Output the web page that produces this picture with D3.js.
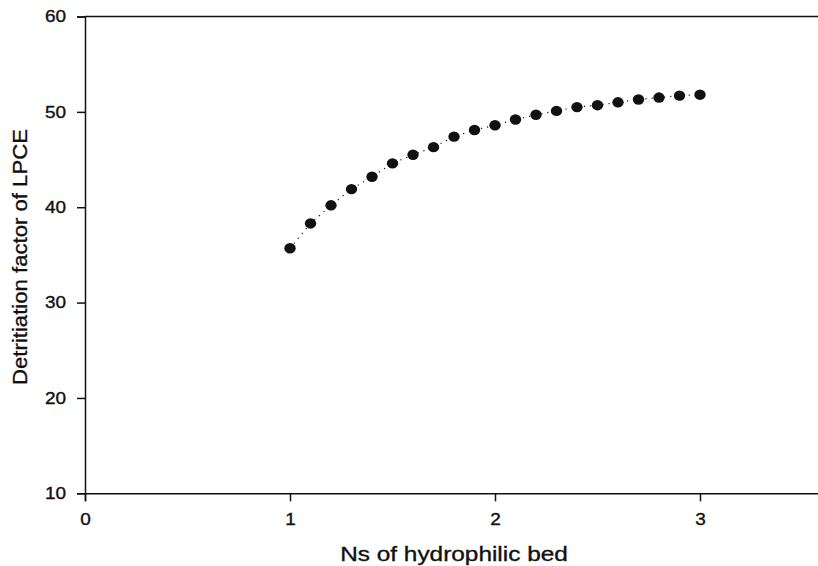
<!DOCTYPE html>
<html>
<head>
<meta charset="utf-8">
<script src="https://cdn.jsdelivr.net/npm/d3@7"></script>
<style>
  body { margin: 0; background: #fff; }
  svg { display: block; }
</style>
</head>
<body>
<svg id="chart" width="818" height="566"></svg>
<script>
const nsValues = [1.0, 1.1, 1.2, 1.3, 1.4, 1.5, 1.6, 1.7, 1.8, 1.9, 2.0,
                  2.1, 2.2, 2.3, 2.4, 2.5, 2.6, 2.7, 2.8, 2.9, 3.0];
const detritiation = [35.7, 38.3, 40.2, 41.9, 43.2, 44.6, 45.5, 46.3, 47.4, 48.1, 48.6,
                      49.2, 49.7, 50.1, 50.5, 50.7, 51.0, 51.3, 51.5, 51.7, 51.8];
const xTicks = [0, 1, 2, 3];
const yTicks = [10, 20, 30, 40, 50, 60];

const width = 818, height = 566;
const margin = { top: 16.5, right: -5, bottom: 72.7, left: 85 };
const font = "Liberation Sans, Arial, Helvetica, sans-serif";
const ink = "#111";

const svg = d3.select("#chart");

const x = d3.scaleLinear()
    .domain([0, 3.6])
    .range([margin.left, width - margin.right]);

const y = d3.scaleLinear()
    .domain([10, 60])
    .range([height - margin.bottom, margin.top]);

const data = nsValues.map((v, i) => ({ x: v, y: detritiation[i] }));

// text in the scan is a little wider and heavier than Arial
const styleTicks = g => g.selectAll("text")
    .attr("font-size", 16.5)
    .attr("font-family", font)
    .attr("fill", ink)
    .attr("stroke", ink)
    .attr("stroke-width", 0.35)
    .attr("transform", "scale(1.15,1)");

// x axis
svg.append("g")
    .attr("transform", `translate(0,${y(10)})`)
    .call(d3.axisBottom(x).tickValues(xTicks).tickFormat(d3.format("d")).tickSizeOuter(0).tickSize(8).tickPadding(12))
    .call(g => g.selectAll("path, line").attr("stroke", ink).attr("stroke-width", 1.5))
    .call(styleTicks);

// y axis
svg.append("g")
    .attr("transform", `translate(${margin.left},0)`)
    .call(d3.axisLeft(y).tickValues(yTicks).tickSizeOuter(0).tickSize(8).tickPadding(8.5))
    .call(g => g.selectAll("path, line").attr("stroke", ink).attr("stroke-width", 1.5))
    .call(styleTicks);

// top frame line
svg.append("line")
    .attr("x1", x(0)).attr("x2", width)
    .attr("y1", y(60)).attr("y2", y(60))
    .attr("stroke", ink).attr("stroke-width", 1.5);

// dotted connecting line
svg.append("path")
    .datum(data)
    .attr("fill", "none")
    .attr("stroke", ink)
    .attr("stroke-width", 1.2)
    .attr("stroke-dasharray", "1.2,5")
    .attr("d", d3.line().x(d => x(d.x)).y(d => y(d.y)));

svg.append("g")
    .selectAll("ellipse")
    .data(data)
    .join("ellipse")
    .attr("cx", d => x(d.x))
    .attr("cy", d => y(d.y))
    .attr("rx", 5.7)
    .attr("ry", 5.2)
    .attr("fill", ink);

// axis titles
svg.append("text")
    .attr("transform", "translate(454,561) scale(1.22,1)")
    .attr("text-anchor", "middle")
    .attr("font-size", 20)
    .attr("font-family", font)
    .attr("fill", ink)
    .attr("stroke", ink)
    .attr("stroke-width", 0.35)
    .text("Ns of hydrophilic bed");

svg.append("text")
    .attr("transform", "translate(27,257) rotate(-90) scale(1.08,1)")
    .attr("text-anchor", "middle")
    .attr("font-size", 20.5)
    .attr("font-family", font)
    .attr("fill", ink)
    .attr("stroke", ink)
    .attr("stroke-width", 0.35)
    .text("Detritiation factor of LPCE");
</script>
</body>
</html>
